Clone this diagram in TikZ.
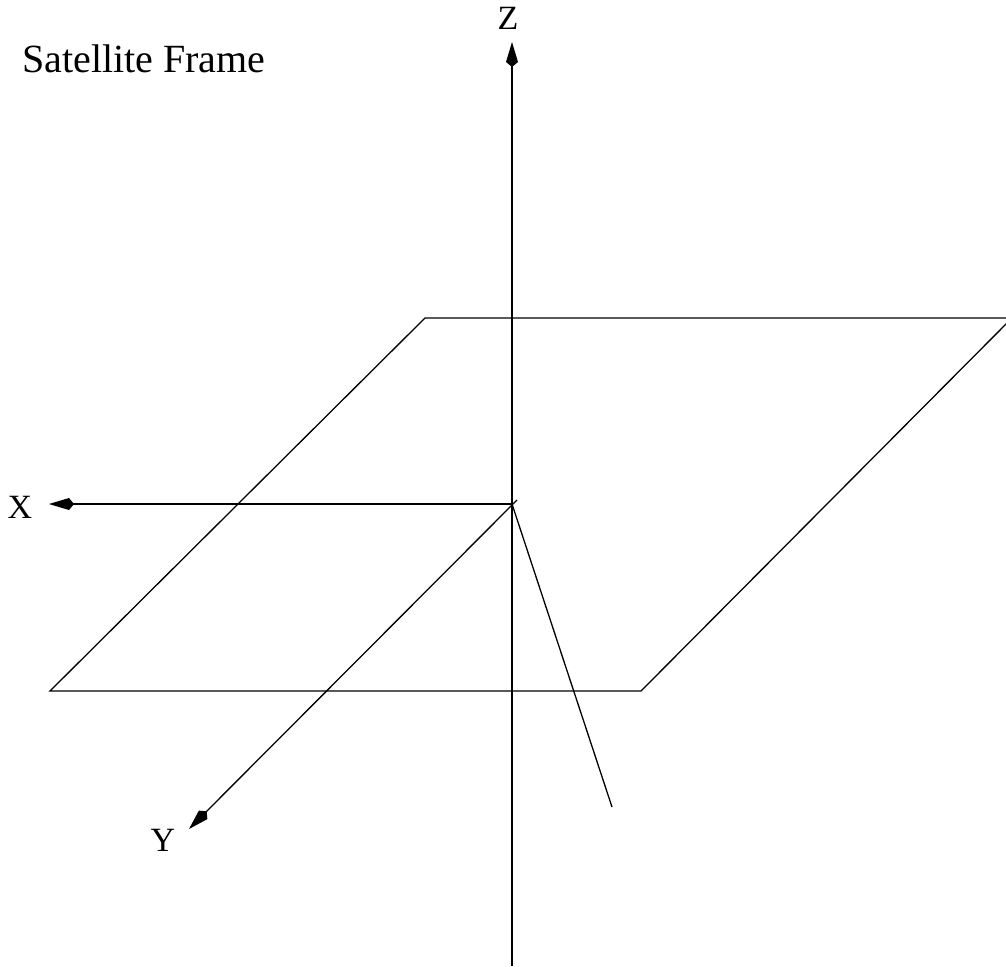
\documentclass[tikz,border=0pt]{standalone}
\usepackage{fontspec}
\setmainfont{Liberation Serif}
\usetikzlibrary{arrows.meta}
\begin{document}
\begin{tikzpicture}[x=1pt,y=-1pt,
  axis/.style={line width=1.3pt,-{Kite[length=25pt,width=12pt,inset=5pt]}},
  plain/.style={line width=1.3pt},
  lbl/.style={font=\fontsize{34}{40}\selectfont,inner sep=0pt}]
\useasboundingbox (0,0) rectangle (1006,966);
\coordinate (O) at (512,504);
\coordinate (Ys) at (517,500);
\coordinate (Ztip) at (512,42);
\coordinate (Zbot) at (512,966);
\coordinate (Xtip) at (49,504);
\coordinate (Ytip) at (189,829);
\coordinate (Wend) at (612,807);
\coordinate (P1) at (425,318);
\coordinate (P2) at (1012,318);
\coordinate (P3) at (641,691);
\coordinate (P4) at (50,691);
\begin{scope}
\clip (0,0) rectangle (1006,966);
\draw[plain,line join=miter] (P1) -- (P2) -- (P3) -- (P4) -- cycle;
\end{scope}
\draw[axis] (Zbot) -- (Ztip);
\draw[axis] (O) -- (Xtip);
\draw[axis] (Ys) -- (Ytip);
\draw[plain] (O) -- (Wend);
\node[lbl] (zl) at (508,18) {Z};
\node[lbl] (xl) at (20,507) {X};
\node[lbl] (yl) at (163,840) {Y};
\node[font=\fontsize{40}{46}\selectfont,inner sep=0pt,anchor=base west] (title) at (22,72) {Satellite Frame};
\end{tikzpicture}
\end{document}
